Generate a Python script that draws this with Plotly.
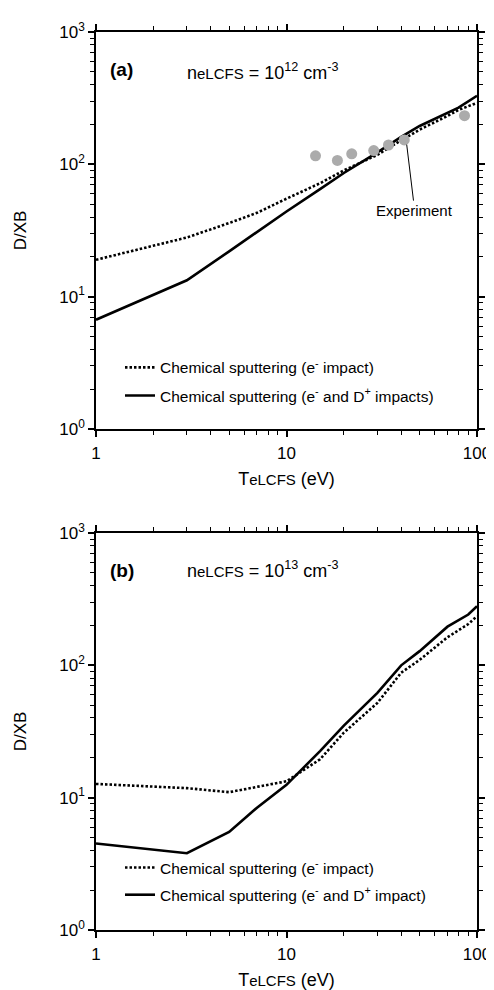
import plotly.graph_objects as go

# ---------------- data ----------------
# Panel (a): n_eLCFS = 1e12 cm^-3
Ta = [1, 3, 5, 7, 10, 15, 20, 30, 40, 50, 70, 80, 100]
Da_e = [19, 28, 36, 43, 55, 72, 90, 118, 152, 183, 232, 258, 291]          # e- impact
Da_eD = [6.7, 13.3, 22, 31, 44, 65, 86, 123, 161, 195, 245, 268, 330]      # e- and D+ impacts
T_exp = [14.2, 18.5, 22.0, 28.7, 34.3, 41.5, 86]
D_exp = [116, 107, 120, 127, 140, 153, 233]

# Panel (b): n_eLCFS = 1e13 cm^-3
Tb = [1, 3, 5, 7, 10, 15, 20, 30, 40, 50, 70, 90, 100]
Db_e = [12.7, 11.8, 11.0, 12.1, 13.3, 19.5, 31, 52, 88, 110, 163, 205, 235]
Db_eD = [4.5, 3.8, 5.5, 8.4, 12.5, 22.5, 35, 62, 100, 128, 196, 242, 280]

x_tickvals = [1, 10, 100]
x_ticktext = ["1", "10", "100"]
y_tickvals = [1, 10, 100, 1000]
y_ticktext = ["10<sup>0</sup>", "10<sup>1</sup>", "10<sup>2</sup>", "10<sup>3</sup>"]

FONT = "Liberation Sans, Arial, sans-serif"
DOT = "2.5px,2px"

fig = go.Figure()

# ---- panel (a)
fig.add_trace(go.Scatter(x=Ta, y=Da_e, mode="lines", xaxis="x", yaxis="y",
                         line=dict(color="black", width=2.6, dash=DOT),
                         name="Chemical sputtering (e<sup>-</sup> impact)",
                         legend="legend", legendgroup="a1"))
fig.add_trace(go.Scatter(x=Ta, y=Da_eD, mode="lines", xaxis="x", yaxis="y",
                         line=dict(color="black", width=2.6),
                         name="Chemical sputtering (e<sup>-</sup> and D<sup>+</sup> impacts)",
                         legend="legend", legendgroup="a2"))
fig.add_trace(go.Scatter(x=T_exp, y=D_exp, mode="markers", xaxis="x", yaxis="y",
                         marker=dict(color="#ababab", size=11, line=dict(width=0)),
                         name="Experiment", showlegend=False))

# ---- panel (b)
fig.add_trace(go.Scatter(x=Tb, y=Db_e, mode="lines", xaxis="x2", yaxis="y2",
                         line=dict(color="black", width=2.6, dash=DOT),
                         name="Chemical sputtering (e<sup>-</sup> impact)",
                         legend="legend2", legendgroup="b1"))
fig.add_trace(go.Scatter(x=Tb, y=Db_eD, mode="lines", xaxis="x2", yaxis="y2",
                         line=dict(color="black", width=2.6),
                         name="Chemical sputtering (e<sup>-</sup> and D<sup>+</sup> impact)",
                         legend="legend2", legendgroup="b2"))

xtitle = ("T<span style='font-size:15px'>eLCFS</span> (eV)")

def xaxis(domain_anchor):
    return dict(type="log", range=[0, 2], anchor=domain_anchor,
                tickmode="array", tickvals=x_tickvals, ticktext=x_ticktext,
                ticks="outside", ticklen=6, tickwidth=1.5, tickcolor="black",
                ticklabelstandoff=2,
                minor=dict(ticks="outside", ticklen=4, tickwidth=1.2, tickcolor="black",
                           tickvals=[m * 10 ** e for e in range(0, 2) for m in range(2, 10)],
                           showgrid=False),
                showline=True, linecolor="black", linewidth=2, mirror="allticks",
                showgrid=False, zeroline=False,
                tickfont=dict(family=FONT, size=17, color="black"),
                title=dict(text=xtitle, font=dict(family=FONT, size=18, color="black"),
                           standoff=10))

def yaxis(domain, anchor):
    return dict(type="log", range=[0, 3], domain=domain, anchor=anchor,
                tickmode="array", tickvals=y_tickvals, ticktext=y_ticktext,
                ticks="outside", ticklen=6, tickwidth=1.5, tickcolor="black",
                minor=dict(ticks="outside", ticklen=4, tickwidth=1.2, tickcolor="black",
                           tickvals=[m * 10 ** e for e in range(0, 3) for m in range(2, 10)],
                           showgrid=False),
                showline=True, linecolor="black", linewidth=1.5, mirror="allticks",
                showgrid=False, zeroline=False,
                tickfont=dict(family=FONT, size=17, color="black"),
                title=dict(text="D/XB", font=dict(family=FONT, size=17, color="black"),
                           standoff=28))

ne_a = ("n<span style='font-size:15px'>eLCFS</span> = 10<sup>12</sup> cm<sup>-3</sup>")
ne_b = ("n<span style='font-size:15px'>eLCFS</span> = 10<sup>13</sup> cm<sup>-3</sup>")

fig.update_layout(
    width=494, height=990,
    margin=dict(l=87, r=11, t=24, b=68),
    paper_bgcolor="white", plot_bgcolor="white",
    font=dict(family=FONT, size=15, color="black"),
    xaxis=xaxis("y"),
    yaxis=yaxis([0.5579, 1.0], "x"),
    xaxis2=xaxis("y2"),
    yaxis2=yaxis([0.0, 0.4421], "x2"),
    legend=dict(x=0.063, y=0.645, xanchor="left", yanchor="top",
                bgcolor="rgba(0,0,0,0)", font=dict(family=FONT, size=15.5),
                tracegroupgap=5, traceorder="grouped"),
    legend2=dict(x=0.063, y=0.088, xanchor="left", yanchor="top",
                 bgcolor="rgba(0,0,0,0)", font=dict(family=FONT, size=15.5),
                 tracegroupgap=4, traceorder="grouped"),
    showlegend=True,
    annotations=[
        dict(text="<b>(a)</b>", xref="paper", yref="paper", x=0.0328, y=0.958,
             xanchor="left", yanchor="middle", showarrow=False,
             font=dict(family=FONT, size=19)),
        dict(text=ne_a, xref="paper", yref="paper", x=0.2348, y=0.956,
             xanchor="left", yanchor="middle", showarrow=False,
             font=dict(family=FONT, size=18)),
        dict(text="<b>(b)</b>", xref="paper", yref="paper", x=0.0328, y=0.4,
             xanchor="left", yanchor="middle", showarrow=False,
             font=dict(family=FONT, size=19)),
        dict(text=ne_b, xref="paper", yref="paper", x=0.2348, y=0.402,
             xanchor="left", yanchor="middle", showarrow=False,
             font=dict(family=FONT, size=18)),
        dict(text="Experiment", xref="x", yref="y", x=1.631, y=2.149,
             ax=8, ay=66, showarrow=True, arrowhead=0, arrowwidth=1,
             arrowcolor="black", font=dict(family=FONT, size=15)),
    ],
)

fig.write_html("out.html")
